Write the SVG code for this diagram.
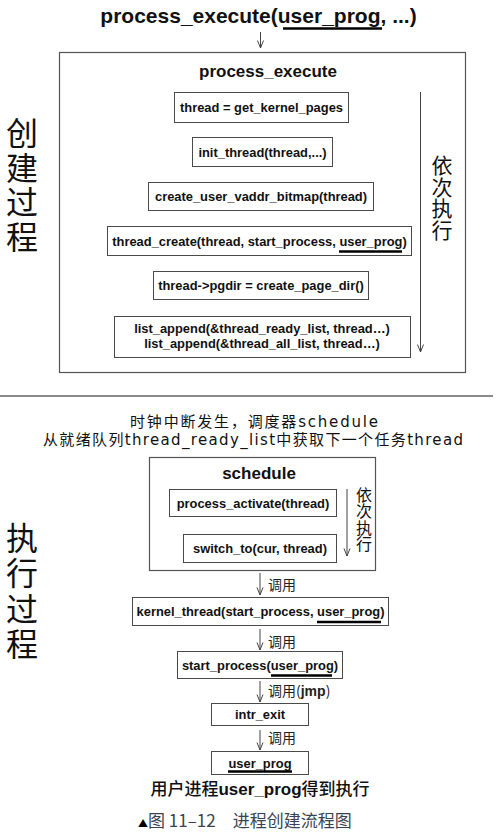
<svg xmlns="http://www.w3.org/2000/svg" width="497" height="833" viewBox="0 0 497 833">
<style>
.bg{fill:#fff}
.box{fill:#fff;stroke:#4a4a4a;stroke-width:1}
.outer{fill:none;stroke:#555;stroke-width:1.2}
.code{font-family:"Liberation Sans",Arial,sans-serif;font-weight:bold;font-size:12.9px;fill:#111;text-anchor:middle}
.big{font-family:"Liberation Sans",Arial,sans-serif;font-weight:bold;fill:#111;text-anchor:middle}
.vert{font-family:"Noto Sans CJK SC",sans-serif;fill:#111;writing-mode:vertical-rl}
.ul{stroke:#000;stroke-width:2.6}
.arr{stroke:#444;stroke-width:1;fill:none;marker-end:url(#ah)}
.lbl{font-family:"Noto Sans CJK SC",sans-serif;font-size:14px;fill:#222}
</style>
<defs>
<marker id="ah" viewBox="0 0 9 8" refX="8.5" refY="4" markerWidth="9" markerHeight="8" markerUnits="userSpaceOnUse" orient="auto">
<path d="M1,1 L8.5,4 L1,7" fill="none" stroke="#444" stroke-width="1"/>
</marker>
</defs>
<rect class="bg" x="0" y="0" width="497" height="833"/>

<g id="title">
<text class="big" x="258.5" y="23" font-size="21">process_execute(user_prog, ...)</text>
<line class="ul" x1="283" y1="28.5" x2="382" y2="28.5"/>
</g>

<g id="process_execute">
<rect class="outer" x="59.5" y="52.5" width="406" height="320"/>
<text class="big" x="268" y="77" font-size="17">process_execute</text>
</g>

<g id="n1"><rect class="box" x="174.5" y="92.5" width="174" height="30"/>
<text class="code" x="261.5" y="112">thread = get_kernel_pages</text></g>
<g id="n2"><rect class="box" x="192.5" y="137.5" width="140" height="29"/>
<text class="code" x="262.5" y="156.5">init_thread(thread,...)</text></g>
<g id="n3"><rect class="box" x="148.5" y="182.5" width="225" height="28"/>
<text class="code" x="261" y="201">create_user_vaddr_bitmap(thread)</text></g>
<g id="n4"><rect class="box" x="107.5" y="226.5" width="304" height="29"/>
<text class="code" x="259.5" y="245.5">thread_create(thread, start_process, user_prog)</text>
<line class="ul" x1="339" y1="251.5" x2="402" y2="251.5"/></g>
<g id="n5"><rect class="box" x="153.5" y="271.5" width="215" height="28"/>
<text class="code" x="261" y="290">thread-&gt;pgdir = create_page_dir()</text></g>
<g id="n6"><rect class="box" x="114.5" y="316.5" width="296" height="41"/>
<text class="code" x="262" y="333">list_append(&amp;thread_ready_list, thread…)</text>
<text class="code" x="262" y="348">list_append(&amp;thread_all_list, thread…)</text></g>

<g id="seq1">
<text class="vert" x="442" y="154.5" font-size="21" letter-spacing="0.7">依次执行</text>
</g>

<g id="label-create">
<text class="vert" x="22" y="117" font-size="32" letter-spacing="2.5">创建过程</text>
</g>

<line x1="0" y1="396" x2="493" y2="396" stroke="#8a8a8a" stroke-width="2"/>

<g id="intro" font-family="DejaVu Sans,'Noto Sans CJK SC',sans-serif" font-size="15" fill="#111">
<text x="130" y="427" textLength="248" lengthAdjust="spacing">时钟中断发生，调度器schedule</text>
<text x="43" y="445" textLength="420" lengthAdjust="spacing">从就绪队列thread_ready_list中获取下一个任务thread</text>
</g>

<g id="schedule">
<rect class="outer" x="149.5" y="457.5" width="226" height="113"/>
<text class="big" x="259" y="479" font-size="17">schedule</text>
</g>
<g id="n7"><rect class="box" x="169.5" y="489.5" width="167" height="27"/>
<text class="code" x="253" y="507.5">process_activate(thread)</text></g>
<g id="n8"><rect class="box" x="183.5" y="534.5" width="153" height="28"/>
<text class="code" x="260" y="553">switch_to(cur, thread)</text></g>
<g id="seq2">
<text class="vert" x="364" y="487" font-size="16" letter-spacing="0.4">依次执行</text>
</g>

<g id="label-exec">
<text class="vert" x="22" y="522" font-size="32" letter-spacing="3.3">执行过程</text>
</g>

<g id="n9"><rect class="box" x="132.5" y="597.5" width="256" height="28"/>
<text class="code" x="260.5" y="616">kernel_thread(start_process, user_prog)</text>
<line class="ul" x1="317" y1="622" x2="381" y2="622"/></g>
<g id="n10"><rect class="box" x="177.5" y="651.5" width="165" height="27"/>
<text class="code" x="260" y="669.5">start_process(user_prog)</text>
<line class="ul" x1="271" y1="675.5" x2="332" y2="675.5"/></g>
<g id="n11"><rect class="box" x="211.5" y="703.5" width="97" height="22"/>
<text class="code" x="260" y="719">intr_exit</text></g>
<g id="n12"><rect class="box" x="211.5" y="751.5" width="97" height="23"/>
<text class="code" x="260" y="767.5">user_prog</text>
<line class="ul" x1="228" y1="771.5" x2="292" y2="771.5"/></g>

<g id="connectors">
<line class="arr" x1="260.5" y1="32" x2="260.5" y2="48"/>
<line class="arr" x1="420.5" y1="92" x2="420.5" y2="352"/>
<line class="arr" x1="347" y1="489" x2="347" y2="556"/>
<line class="arr" x1="260" y1="573" x2="260" y2="595"/>
<line class="arr" x1="260" y1="629" x2="260" y2="650"/>
<line class="arr" x1="260" y1="681" x2="260" y2="702"/>
<line class="arr" x1="260" y1="730" x2="260" y2="750"/>
<text class="lbl" x="268" y="590">调用</text>
<text class="lbl" x="268" y="647">调用</text>
<text class="lbl" x="268" y="696">调用(<tspan font-family="Liberation Sans,Arial,sans-serif" font-weight="bold">jmp</tspan>)</text>
<text class="lbl" x="268" y="743">调用</text>
</g>

<g id="result">
<text x="260" y="795" text-anchor="middle" font-family="'Noto Sans CJK SC',sans-serif" font-size="17" font-weight="500" fill="#111">用户进程<tspan font-family="Liberation Sans,Arial,sans-serif" font-weight="bold">user_prog</tspan>得到执行</text>
</g>

<g id="caption">
<text x="138" y="827" font-family="'Noto Sans CJK SC',sans-serif" font-size="17" fill="#3c4350"><tspan font-size="10" fill="#000">▲</tspan>图 11–12　进程创建流程图</text>
</g>
</svg>
